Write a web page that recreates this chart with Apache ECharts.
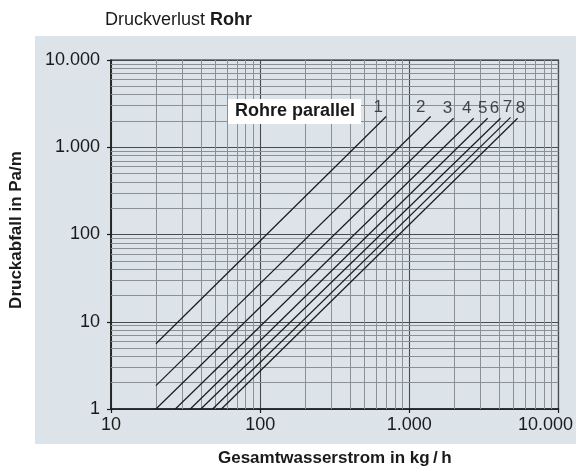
<!DOCTYPE html>
<html>
<head>
<meta charset="utf-8">
<script src="https://cdn.jsdelivr.net/npm/echarts@6/dist/echarts.min.js"></script>
<style>
  html, body { margin: 0; padding: 0; background: #ffffff; }
  #chart { width: 576px; height: 472px; }
</style>
</head>
<body>
<div id="chart"></div>
<script>
// Axis ranges (log-log)
const xRange = [10, 10000];
const yRange = [1, 10000];

// Minor grid positions between the decades
const xMinorLines = [20, 30, 40, 50, 60, 70, 80, 90,
                     200, 300, 400, 500, 600, 700, 800, 900,
                     2000, 3000, 4000, 5000, 6000, 7000, 8000, 9000];
const yMinorLines = [2, 3, 4, 5, 6, 7, 8, 9,
                     20, 30, 40, 50, 60, 70, 80, 90,
                     200, 300, 400, 500, 600, 700, 800, 900,
                     2000, 3000, 4000, 5000, 6000, 7000, 8000, 9000];

// Number of parallel pipes per curve
const pipeCounts = ['1', '2', '3', '4', '5', '6', '7', '8'];

// Pressure drop curves: [total flow kg/h, pressure drop Pa/m] start and end
const pipes1 = [[20, 5.6], [700, 2250]];
const pipes2 = [[20, 1.85], [1390, 2250]];
const pipes3 = [[20, 1], [1980, 2150]];
const pipes4 = [[27, 1], [2700, 2150]];
const pipes5 = [[34, 1], [3350, 2150]];
const pipes6 = [[40, 1], [4090, 2150]];
const pipes7 = [[48, 1], [4770, 2200]];
const pipes8 = [[55, 1], [5320, 2150]];
const curves = [pipes1, pipes2, pipes3, pipes4, pipes5, pipes6, pipes7, pipes8];

// Pixel nudges for the curve numbers relative to each curve end
const numberOffsets = [[-8, -9], [-10, -9], [-6, -10], [-7, -10],
                       [-5, -10], [-6, -10], [-3, -10], [3, -10]];

const FONT = '"Liberation Sans", Arial, Helvetica, sans-serif';
const INK = '#1a1a1a';

function deNumber(v) {
  return String(Math.round(v)).replace(/\B(?=(\d{3})+(?!\d))/g, '.');
}

const chart = echarts.init(document.getElementById('chart'), null, { renderer: 'canvas' });

const curveSeries = curves.map((pts, i) => ({
  type: 'line',
  name: pipeCounts[i],
  data: pts,
  showSymbol: false,
  symbol: 'none',
  silent: true,
  lineStyle: { color: INK, width: 1.2 },
  z: 5
}));

const numberSeries = {
  type: 'scatter',
  silent: true,
  symbolSize: 1,
  itemStyle: { color: 'rgba(0,0,0,0)' },
  z: 6,
  data: curves.map((pts, i) => ({
    value: pts[pts.length - 1],
    label: {
      show: true,
      position: 'inside',
      formatter: pipeCounts[i],
      offset: numberOffsets[i],
      fontFamily: FONT,
      fontSize: 17,
      color: INK
    }
  }))
};

const gridSeries = {
  type: 'line',
  data: [],
  silent: true,
  z: 1,
  markLine: {
    silent: true,
    symbol: ['none', 'none'],
    label: { show: false },
    animation: false,
    lineStyle: { color: '#8a9095', width: 1, type: 'solid' },
    data: xMinorLines.map(v => ({ xAxis: v }))
      .concat(yMinorLines.map(v => ({ yAxis: v })))
  }
};

const option = {
  animation: false,
  backgroundColor: '#ffffff',
  title: [
    {
      text: '{a|Druckverlust }{b|Rohr}',
      left: 100,
      top: 6,
      textStyle: {
        rich: {
          a: { fontFamily: FONT, fontSize: 18, fontWeight: 'normal', color: INK },
          b: { fontFamily: FONT, fontSize: 18, fontWeight: 'bold', color: INK }
        }
      }
    },
    {
      text: 'Rohre parallel',
      left: 228,
      top: 99,
      backgroundColor: '#ffffff',
      padding: [3, 6, 4, 7],
      textStyle: { fontFamily: FONT, fontSize: 18, fontWeight: 'bold', color: INK }
    }
  ],
  graphic: [
    {
      type: 'rect',
      silent: true,
      z: -10,
      shape: { x: 35, y: 36, width: 541, height: 408 },
      style: { fill: '#dce4ea' }
    }
  ],
  grid: {
    left: 111, right: 17, top: 60, bottom: 61,
    show: true,
    backgroundColor: 'transparent',
    borderColor: INK,
    borderWidth: 1.2
  },
  xAxis: {
    type: 'log',
    logBase: 10,
    min: xRange[0],
    max: xRange[1],
    name: 'Gesamtwasserstrom in kg\u2009/\u2009h',
    nameLocation: 'middle',
    nameGap: 41,
    nameTextStyle: { fontFamily: FONT, fontSize: 17, fontWeight: 'bold', color: INK },
    axisLine: { show: true, lineStyle: { color: INK, width: 1.5 } },
    axisTick: { show: true, length: 4, lineStyle: { color: INK, width: 1.2 } },
    splitLine: { show: true, lineStyle: { color: '#484b4e', width: 1.1 } },
    axisLabel: {
      margin: 7,
      fontFamily: FONT,
      fontSize: 18,
      color: INK,
      formatter: v => (Math.round(v) === xRange[1] ? '{last|' + deNumber(v) + '}' : deNumber(v)),
      rich: {
        last: { fontFamily: FONT, fontSize: 18, color: INK, padding: [0, 26, 0, 0] }
      }
    }
  },
  yAxis: {
    type: 'log',
    logBase: 10,
    min: yRange[0],
    max: yRange[1],
    name: 'Druckabfall in Pa/m',
    nameLocation: 'middle',
    nameGap: 86,
    nameRotate: 90,
    nameTextStyle: { fontFamily: FONT, fontSize: 17, fontWeight: 'bold', color: INK, padding: [0, 0, 0, 9] },
    axisLine: { show: true, lineStyle: { color: INK, width: 1.5 } },
    axisTick: { show: true, length: 4, lineStyle: { color: INK, width: 1.2 } },
    splitLine: { show: true, lineStyle: { color: '#484b4e', width: 1.1 } },
    axisLabel: {
      margin: 11,
      fontFamily: FONT,
      fontSize: 18,
      color: INK,
      formatter: v => deNumber(v)
    }
  },
  series: [gridSeries].concat(curveSeries).concat([numberSeries])
};

chart.setOption(option);
</script>
</body>
</html>
